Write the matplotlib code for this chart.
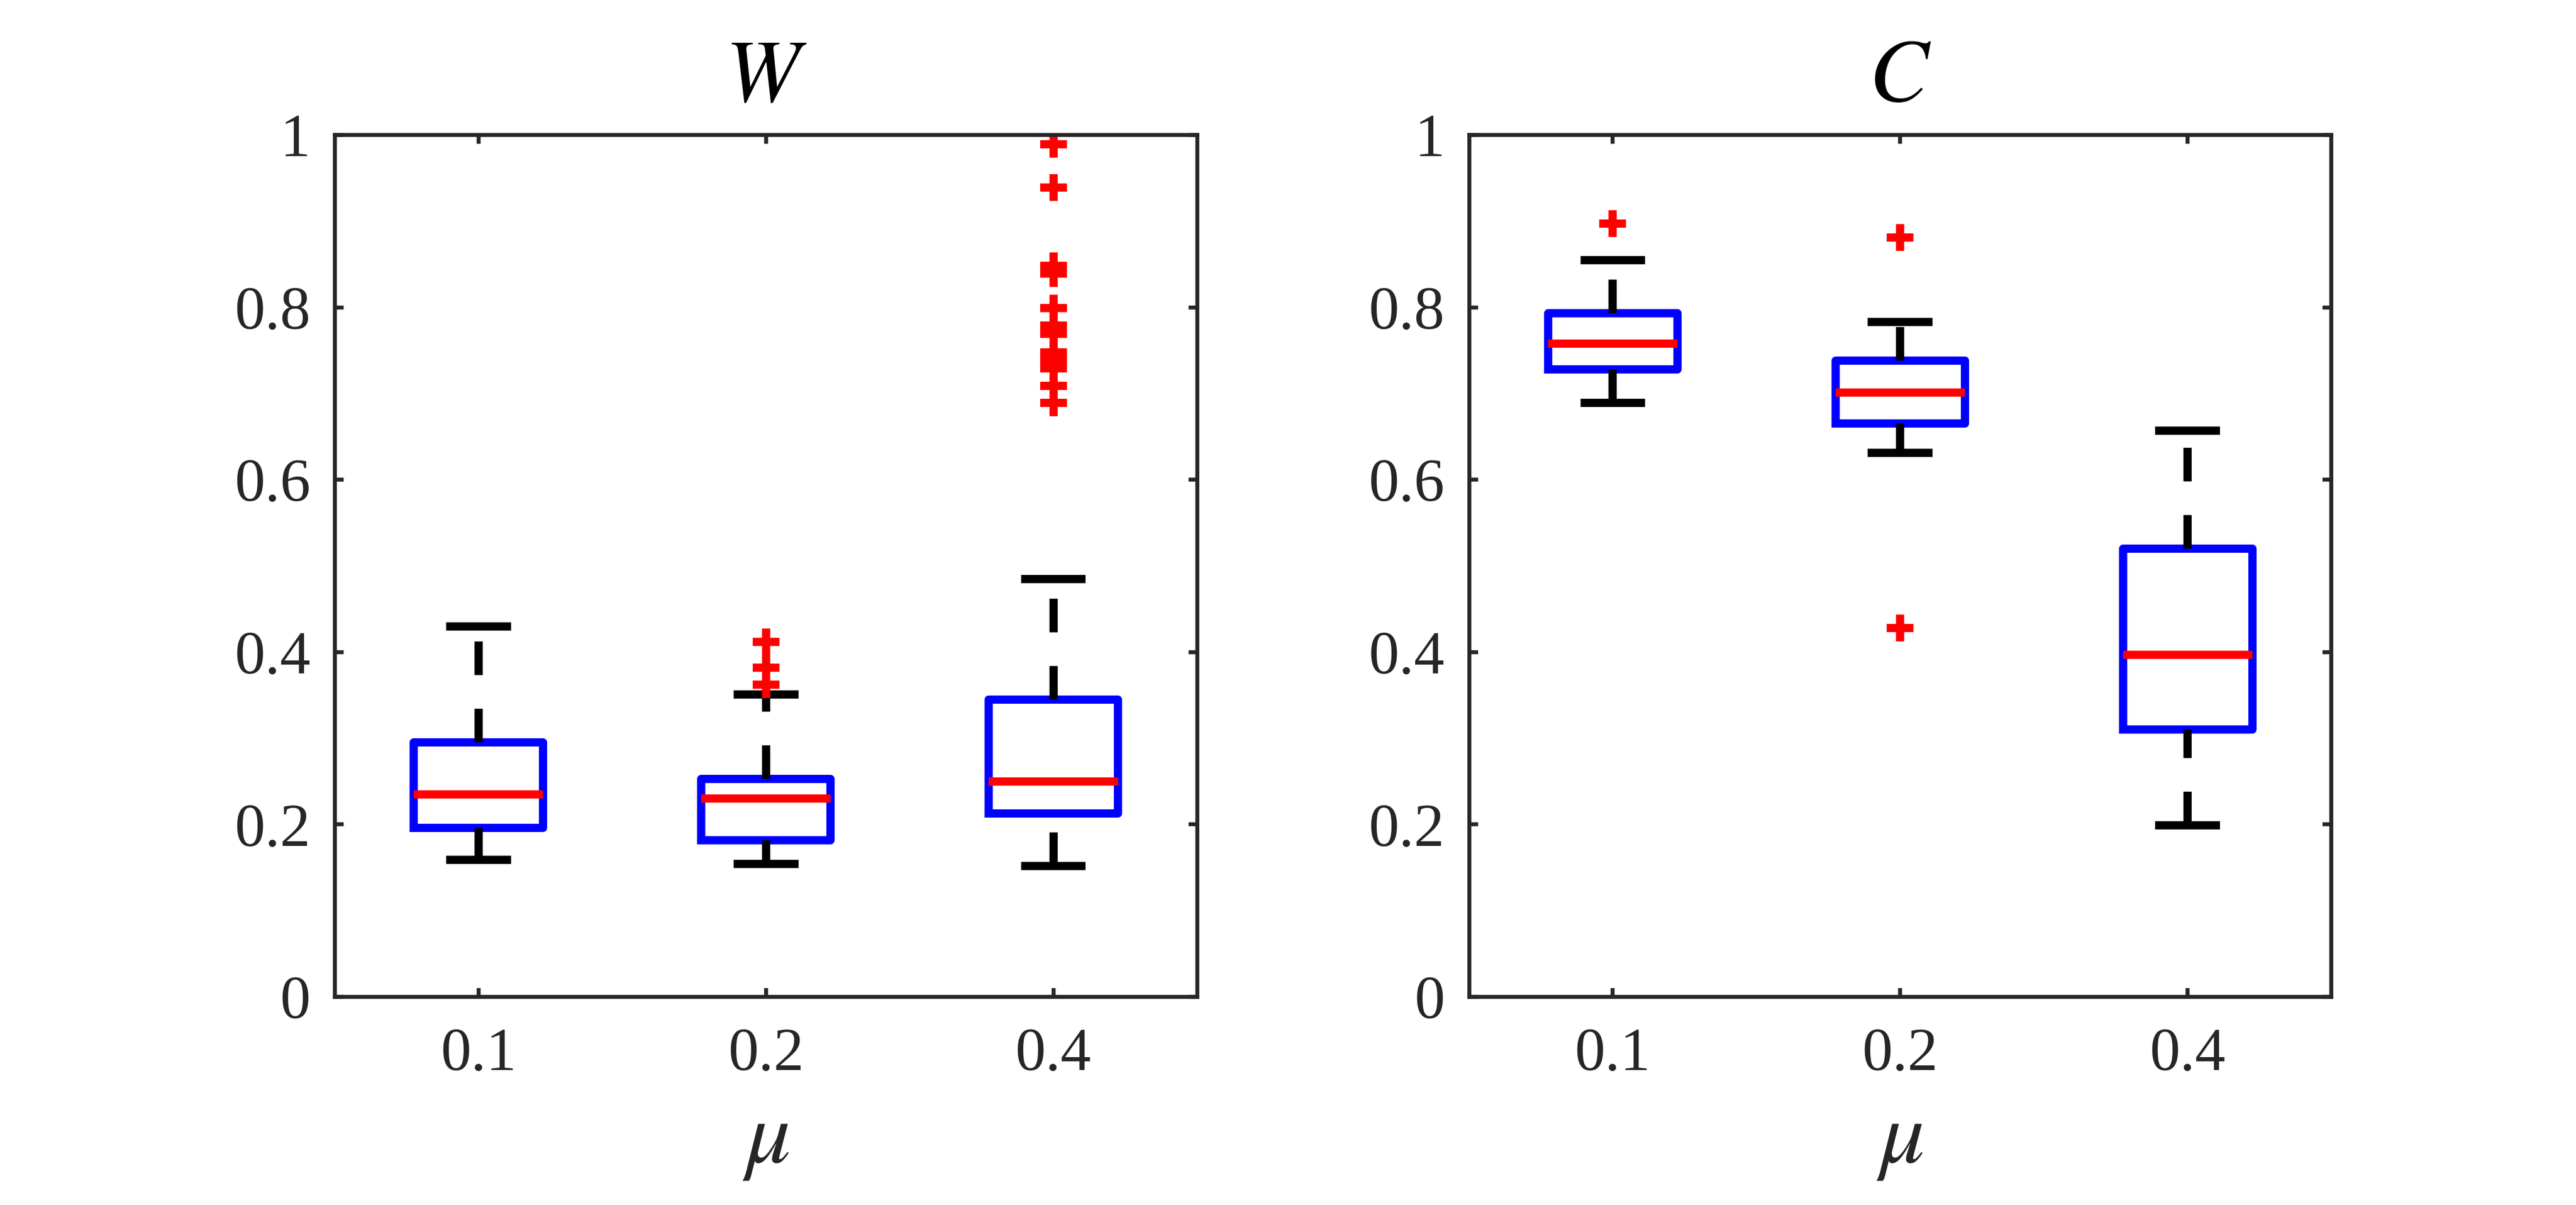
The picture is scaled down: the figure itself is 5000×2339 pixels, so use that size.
import matplotlib
matplotlib.use("Agg")
import matplotlib.pyplot as plt

plt.rcParams["font.family"] = ["Liberation Serif", "DejaVu Serif"]
plt.rcParams["mathtext.fontset"] = "stix"
plt.rcParams["lines.scale_dashes"] = False

# ---- data ----
mu_labels = ["0.1", "0.2", "0.4"]

# W panel
w_med = [0.235, 0.230, 0.250]
w_q1 = [0.196, 0.182, 0.213]
w_q3 = [0.295, 0.253, 0.345]
w_lo = [0.159, 0.154, 0.152]
w_hi = [0.430, 0.351, 0.485]
w_fliers = [[],
            [0.412, 0.382, 0.362],
            [0.989, 0.939, 0.848, 0.839, 0.799, 0.779, 0.769, 0.748, 0.739, 0.729, 0.709, 0.689]]

# C panel
c_med = [0.758, 0.701, 0.397]
c_q1 = [0.728, 0.665, 0.310]
c_q3 = [0.793, 0.738, 0.520]
c_lo = [0.689, 0.631, 0.199]
c_hi = [0.855, 0.783, 0.657]
c_fliers = [[0.897], [0.881, 0.428], []]

yticks = [0, 0.2, 0.4, 0.6, 0.8, 1]
ytick_labels = ["0", "0.2", "0.4", "0.6", "0.8", "1"]

AX_COLOR = "#262626"
LW = 2.3


def make_stats(med, q1, q3, lo, hi, fliers):
    stats = []
    for i in range(len(med)):
        stats.append({"med": med[i], "q1": q1[i], "q3": q3[i],
                      "whislo": lo[i], "whishi": hi[i], "fliers": fliers[i]})
    return stats


def draw_panel(ax, stats, title):
    art = ax.bxp(stats, positions=[1, 2, 3], widths=0.45, capwidths=0.225,
                 showfliers=True,
                 boxprops=dict(color="blue", linewidth=LW, solid_joinstyle="round"),
                 medianprops=dict(color="red", linewidth=LW, solid_capstyle="butt"),
                 whiskerprops=dict(color="black", linewidth=LW,
                                   linestyle=(0, (9.4, 9.4)), dash_capstyle="butt"),
                 capprops=dict(color="black", linewidth=LW, solid_capstyle="butt"),
                 flierprops=dict(marker="+", markersize=7.6, markeredgewidth=LW,
                                 markeredgecolor="red", linestyle="none"))
    # matlab draws both whiskers from the lower end upwards
    for k, w in enumerate(art["whiskers"]):
        if k % 2 == 0:
            xd, yd = w.get_data()
            w.set_data(list(xd)[::-1], list(yd)[::-1])

    ax.set_xlim(0.5, 3.5)
    ax.set_ylim(0, 1)
    ax.set_xticks([1, 2, 3])
    ax.set_xticklabels(mu_labels)
    ax.set_yticks(yticks)
    ax.set_yticklabels(ytick_labels)
    ax.tick_params(axis="both", direction="in", length=2.4, width=1.1,
                   color=AX_COLOR, labelcolor=AX_COLOR, labelsize=17,
                   top=True, right=True)
    ax.tick_params(axis="y", pad=6.8)
    ax.tick_params(axis="x", pad=8.5)
    for s in ax.spines.values():
        s.set_linewidth(1.1)
        s.set_color(AX_COLOR)
    ax.set_title("$" + title + "$", fontsize=25, pad=9.4, color="black")
    ax.set_xlabel(r"$\mu$", fontsize=25, labelpad=5, color=AX_COLOR)


fig = plt.figure(figsize=(10, 4.678), dpi=500)
ax1 = fig.add_axes([0.13, 0.1727, 0.3347, 0.7153])
ax2 = fig.add_axes([0.5703, 0.1727, 0.3347, 0.7153])

draw_panel(ax1, make_stats(w_med, w_q1, w_q3, w_lo, w_hi, w_fliers), "W")
draw_panel(ax2, make_stats(c_med, c_q1, c_q3, c_lo, c_hi, c_fliers), "C")

fig.savefig("out.png", dpi=500, facecolor="white")
